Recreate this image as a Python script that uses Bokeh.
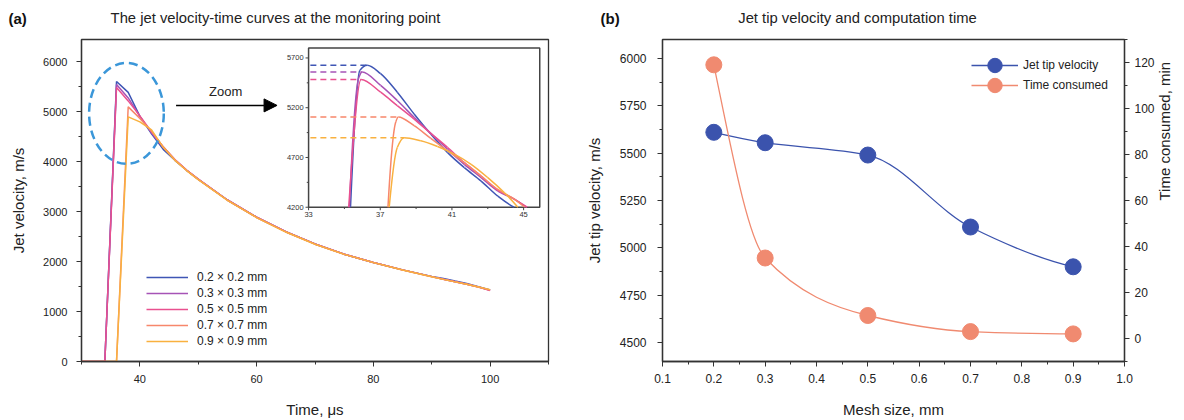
import numpy as np
from bokeh.plotting import figure
from bokeh.models import (Range1d, LinearAxis, Legend, LegendItem, Label, Arrow,
                          NormalHead, SingleIntervalTicker, PrintfTickFormatter,
                          ColumnDataSource)
from bokeh.layouts import row, column
from bokeh.embed import file_html
from bokeh.resources import INLINE
from bokeh.core.properties import value

FONT = "Liberation Sans"

# ---------------- Panel (a): jet velocity vs time ----------------
time_us = [30, 34, 36, 38, 40, 42, 44, 46, 48, 50, 55, 60, 65, 70, 75, 80, 85, 90, 92, 94, 96, 98, 100]
vel_02 = [0, 0, 5610, 5390, 4910, 4560, 4250, 4030, 3830, 3650, 3235, 2890, 2600, 2355, 2150, 1985, 1835, 1705, 1662, 1612, 1565, 1500, 1432]
vel_03 = [0, 0, 5550, 5280, 4910, 4580, 4285, 4040, 3835, 3655, 3235, 2890, 2600, 2355, 2150, 1985, 1835, 1700, 1648, 1598, 1549, 1494, 1425]
vel_05 = [0, 0, 5490, 5220, 4920, 4600, 4300, 4045, 3835, 3655, 3235, 2890, 2600, 2355, 2150, 1985, 1835, 1700, 1647, 1596, 1547, 1493, 1420]
vel_07 = [0, 0, 0, 5100, 4870, 4610, 4300, 4040, 3830, 3650, 3230, 2885, 2595, 2350, 2148, 1983, 1833, 1698, 1646, 1596, 1547, 1494, 1432]
vel_09 = [0, 0, 0, 4900, 4800, 4640, 4290, 4030, 3825, 3645, 3228, 2883, 2593, 2348, 2146, 1981, 1831, 1696, 1645, 1595, 1546, 1494, 1440]
series_labels = ["0.2 × 0.2 mm", "0.3 × 0.3 mm", "0.5 × 0.5 mm", "0.7 × 0.7 mm", "0.9 × 0.9 mm"]
series_colors = ["#3f56b5", "#a653b6", "#e9508f", "#f7876b", "#f9b13f"]

# inset (zoom) data
ins_t_02 = [35.34, 35.86, 36.27, 37.02, 37.95, 38.89, 39.82, 40.76, 41.69, 42.63, 43.56, 44.46]
ins_v_02 = [4200, 5575, 5626, 5542, 5356, 5137, 4935, 4749, 4598, 4463, 4311, 4200]
ins_t_03 = [35.28, 35.8, 35.99, 37.02, 37.95, 38.89, 39.82, 40.76, 41.69, 42.63, 43.56, 44.5, 45.15]
ins_v_03 = [4200, 5500, 5558, 5424, 5272, 5103, 4942, 4783, 4631, 4497, 4362, 4280, 4200]
ins_t_05 = [35.24, 35.93, 37.02, 37.95, 38.89, 39.82, 40.76, 41.69, 42.63, 43.56, 44.5, 45.2]
ins_v_05 = [4200, 5484, 5356, 5221, 5086, 4942, 4800, 4648, 4513, 4372, 4280, 4200]
ins_t_07 = [37.43, 37.87, 38.01, 38.89, 39.82, 40.76, 41.69, 42.63, 43.56, 44.5, 45.06]
ins_v_07 = [4200, 5060, 5107, 5019, 4891, 4766, 4648, 4513, 4379, 4280, 4200]
ins_t_09 = [37.5, 37.95, 38.33, 39.26, 40.2, 41.13, 42.07, 43.0, 43.93, 44.68]
ins_v_09 = [4200, 4800, 4898, 4867, 4810, 4733, 4631, 4497, 4345, 4200]
peak_t = [36.27, 35.99, 35.93, 38.01, 38.33]
peak_v = [5626, 5558, 5484, 5107, 4898]
inset_xticks = [33, 37, 41, 45]
inset_xminor = [35, 39, 43]
inset_yticks = [4200, 4700, 5200, 5700]
inset_yminor = [4450, 4950, 5450]

# ---------------- Panel (b): mesh size study ----------------
mesh_mm = [0.2, 0.3, 0.5, 0.7, 0.9]
tip_velocity = [5610, 5555, 5490, 5110, 4900]
time_consumed = [119, 35, 10, 3, 2]
BLUE = "#3b53ad"
SALMON = "#f08a70"

# header texts
panel_tags = ["(a)", "(b)"]
panel_titles = ["The jet velocity-time curves at the monitoring point",
                "Jet tip velocity and computation time"]


def pchip_slopes(x, y):
    x = np.asarray(x, float); y = np.asarray(y, float)
    h = np.diff(x); s = np.diff(y) / h
    n = len(x); d = np.zeros(n)
    for k in range(1, n - 1):
        if s[k - 1] * s[k] <= 0:
            d[k] = 0.0
        else:
            w1 = 2 * h[k] + h[k - 1]; w2 = h[k] + 2 * h[k - 1]
            d[k] = (w1 + w2) / (w1 / s[k - 1] + w2 / s[k])

    def end(h0, h1, s0, s1):
        dd = ((2 * h0 + h1) * s0 - h0 * s1) / (h0 + h1)
        if np.sign(dd) != np.sign(s0):
            dd = 0.0
        elif np.sign(s0) != np.sign(s1) and abs(dd) > abs(3 * s0):
            dd = 3 * s0
        return dd
    d[0] = end(h[0], h[1], s[0], s[1])
    d[-1] = end(h[-1], h[-2], s[-1], s[-2])
    return d


def bezier_source(x, y):
    d = pchip_slopes(x, y)
    x = np.asarray(x, float); y = np.asarray(y, float); h = np.diff(x)
    return ColumnDataSource(dict(
        x0=x[:-1], y0=y[:-1], x1=x[1:], y1=y[1:],
        cx0=x[:-1] + h / 3, cy0=y[:-1] + d[:-1] * h / 3,
        cx1=x[1:] - h / 3, cy1=y[1:] - d[1:] * h / 3))


def style_axis(ax, tick_size="11px"):
    ax.axis_line_color = "#333333"; ax.axis_line_width = 1.3
    ax.major_tick_line_color = "#333333"; ax.minor_tick_line_color = "#333333"
    ax.major_tick_in = 0; ax.major_tick_out = 5
    ax.minor_tick_in = 0; ax.minor_tick_out = 3
    ax.major_label_text_font = FONT; ax.major_label_text_font_size = tick_size
    ax.major_label_text_color = "#222222"
    ax.axis_label_text_font = FONT; ax.axis_label_text_font_size = "15px"
    ax.axis_label_text_font_style = "normal"; ax.axis_label_text_color = "#222222"


# ================= Header (panel tags + titles) =================
hdr = figure(width=1184, height=37, title=None, x_range=Range1d(0, 1184), y_range=Range1d(0, 37),
             x_axis_type=None, y_axis_type=None, output_backend="svg", toolbar_location=None,
             min_border_left=0, min_border_right=0, min_border_top=0, min_border_bottom=0)
hdr.outline_line_color = None
hdr.xgrid.visible = False; hdr.ygrid.visible = False
hdr.text(x=[8, 600], y=[19.5, 19.5], text=panel_tags, text_align="left", text_baseline="middle",
         text_font=value(FONT), text_font_size="15px", text_font_style="bold", text_color="#111111")
hdr.text(x=[275, 857], y=[19.5, 19.5], text=panel_titles, text_align="center", text_baseline="middle",
         text_font=value(FONT), text_font_size="14.8px", text_color="#222222")

# ================= Figure (a) =================
p1 = figure(width=582, height=383, title=None, x_range=Range1d(30, 110), y_range=Range1d(0, 6450),
            output_backend="svg", toolbar_location=None,
            min_border_left=81, min_border_right=34, min_border_top=2, min_border_bottom=58)
p1.xgrid.visible = False; p1.ygrid.visible = False
p1.outline_line_color = "#333333"; p1.outline_line_width = 1.3
p1.xaxis.ticker = SingleIntervalTicker(interval=20, num_minor_ticks=2)
p1.yaxis.ticker = SingleIntervalTicker(interval=1000, num_minor_ticks=2)
p1.xaxis.axis_label = "Time, μs"; p1.yaxis.axis_label = "Jet velocity, m/s"
style_axis(p1.xaxis[0]); style_axis(p1.yaxis[0])
p1.xaxis.major_label_standoff = 8; p1.xaxis.axis_label_standoff = 15
p1.yaxis.major_label_standoff = 9; p1.yaxis.axis_label_standoff = 13

items = []
for vals, lab, col in zip([vel_02, vel_03, vel_05, vel_07, vel_09], series_labels, series_colors):
    r = p1.line(time_us, vals, line_color=col, line_width=1.5)
    items.append(LegendItem(label=lab, renderers=[r]))
leg1 = Legend(items=items, location=(65, 12), padding=0, margin=0, spacing=0,
              glyph_width=42, glyph_height=16, label_height=16, label_standoff=9,
              label_text_font=FONT, label_text_font_size="12px", label_text_color="#222222",
              background_fill_alpha=0, border_line_alpha=0)
p1.add_layout(leg1)

# zoom annotation
p1.ellipse(x=[37.7], y=[4970], width=12.8, height=2020, fill_alpha=0,
           line_color="#3b97d9", line_width=2.5, line_dash="9 5")
p1.add_layout(Arrow(end=NormalHead(size=13, fill_color="black", line_color="black"),
                    x_start=46.2, y_start=5130, x_end=63.5, y_end=5130,
                    line_color="black", line_width=1.5))
p1.add_layout(Label(x=54.7, y=5400, text="Zoom", text_align="center", text_baseline="middle",
                    text_font=FONT, text_font_size="13px", text_color="#222222"))

# inset
ins_x = Range1d(33, 45.9); ins_y = Range1d(4200, 5800)
sub = p1.subplot(x_source=ins_x, y_source=ins_y,
                 x_target=Range1d(68.9, 108.5), y_target=Range1d(3090, 6280))
sub.quad(left=[ins_x.start], right=[ins_x.end], bottom=[ins_y.start], top=[ins_y.end],
         fill_color="white", line_color="#444444", line_width=1.5)
for tt, vv, col in zip([ins_t_02, ins_t_03, ins_t_05, ins_t_07, ins_t_09],
                       [ins_v_02, ins_v_03, ins_v_05, ins_v_07, ins_v_09], series_colors):
    sub.bezier(x0="x0", y0="y0", x1="x1", y1="y1", cx0="cx0", cy0="cy0", cx1="cx1", cy1="cy1",
               source=bezier_source(tt, vv), line_color=col, line_width=1.5)
sub.segment(x0=[ins_x.start + 0.1] * 5, y0=peak_v, x1=peak_t, y1=peak_v,
            line_color=series_colors, line_width=1.5, line_dash="6 4")
# inset ticks
sub.segment(x0=[ins_x.start] * 4, y0=inset_yticks, x1=[ins_x.start - 0.17] * 4, y1=inset_yticks,
            line_color="#444444", line_width=1)
sub.segment(x0=[ins_x.start] * 3, y0=inset_yminor, x1=[ins_x.start - 0.1] * 3, y1=inset_yminor,
            line_color="#444444", line_width=1)
sub.segment(x0=inset_xticks, y0=[ins_y.start] * 4, x1=inset_xticks, y1=[ins_y.start - 30] * 4,
            line_color="#444444", line_width=1)
sub.segment(x0=inset_xminor, y0=[ins_y.start] * 3, x1=inset_xminor, y1=[ins_y.start - 18] * 3,
            line_color="#444444", line_width=1)
sub.text(x=[ins_x.start] * 4, y=inset_yticks, text=[str(v) for v in inset_yticks],
         x_offset=-5, text_align="right", text_baseline="middle",
         text_font_size="7.5px", text_color="#333333", text_font=value(FONT))
sub.text(x=inset_xticks, y=[ins_y.start] * 4, text=[str(v) for v in inset_xticks],
         y_offset=5, text_align="center", text_baseline="top",
         text_font_size="7.5px", text_color="#333333", text_font=value(FONT))

# ================= Figure (b) =================
p2 = figure(width=602, height=383, title=None, x_range=Range1d(0.1, 1.0), y_range=Range1d(4400, 6100),
            output_backend="svg", toolbar_location=None,
            min_border_left=77, min_border_right=58, min_border_top=1, min_border_bottom=58)
p2.xgrid.visible = False; p2.ygrid.visible = False
p2.outline_line_color = "#333333"; p2.outline_line_width = 1.3
p2.extra_y_ranges = {"time": Range1d(-10, 130)}
p2.xaxis.ticker = SingleIntervalTicker(interval=0.1, num_minor_ticks=2)
p2.xaxis.formatter = PrintfTickFormatter(format="%.1f")
p2.yaxis.ticker = SingleIntervalTicker(interval=250, num_minor_ticks=2)
p2.xaxis.axis_label = "Mesh size, mm"; p2.yaxis.axis_label = "Jet tip velocity, m/s"
ax_r = LinearAxis(y_range_name="time", axis_label="Time consumed, min",
                  ticker=SingleIntervalTicker(interval=20, num_minor_ticks=2))
p2.add_layout(ax_r, "right")
for ax in [p2.xaxis[0], p2.yaxis[0], ax_r]:
    style_axis(ax, "12px")
p2.xaxis.major_label_standoff = 7; p2.xaxis.axis_label_standoff = 15
p2.yaxis[0].major_label_standoff = 11; p2.yaxis[0].axis_label_standoff = 14
ax_r.major_label_standoff = 5; ax_r.axis_label_standoff = 7
ax_r.axis_label_orientation = np.pi / 2

b_v = p2.bezier(x0="x0", y0="y0", x1="x1", y1="y1", cx0="cx0", cy0="cy0", cx1="cx1", cy1="cy1",
                source=bezier_source(mesh_mm, tip_velocity), line_color=BLUE, line_width=1.3)
b_t = p2.bezier(x0="x0", y0="y0", x1="x1", y1="y1", cx0="cx0", cy0="cy0", cx1="cx1", cy1="cy1",
                source=bezier_source(mesh_mm, time_consumed), line_color=SALMON, line_width=1.3,
                y_range_name="time")
s_v = p2.scatter(mesh_mm, tip_velocity, size=16, fill_color=BLUE, line_color=BLUE)
s_t = p2.scatter(mesh_mm, time_consumed, size=16, fill_color=SALMON, line_color=SALMON,
                 y_range_name="time")
leg_kw = dict(padding=0, margin=0, spacing=0, glyph_width=47, glyph_height=36, label_height=36,
              label_standoff=5, label_text_font=FONT, label_text_font_size="12px",
              label_text_color="#222222", background_fill_alpha=0, border_line_alpha=0)
leg2a = Legend(items=[LegendItem(label="Jet tip velocity", renderers=[b_v, s_v])],
               location=(309, 278), **leg_kw)
leg2b = Legend(items=[LegendItem(label="Time consumed", renderers=[b_t, s_t])],
               location=(309, 258), **leg_kw)
p2.add_layout(leg2a)
p2.add_layout(leg2b)

layout = column(hdr, row(p1, p2))
open("out.html", "w").write(file_html(layout, INLINE))
